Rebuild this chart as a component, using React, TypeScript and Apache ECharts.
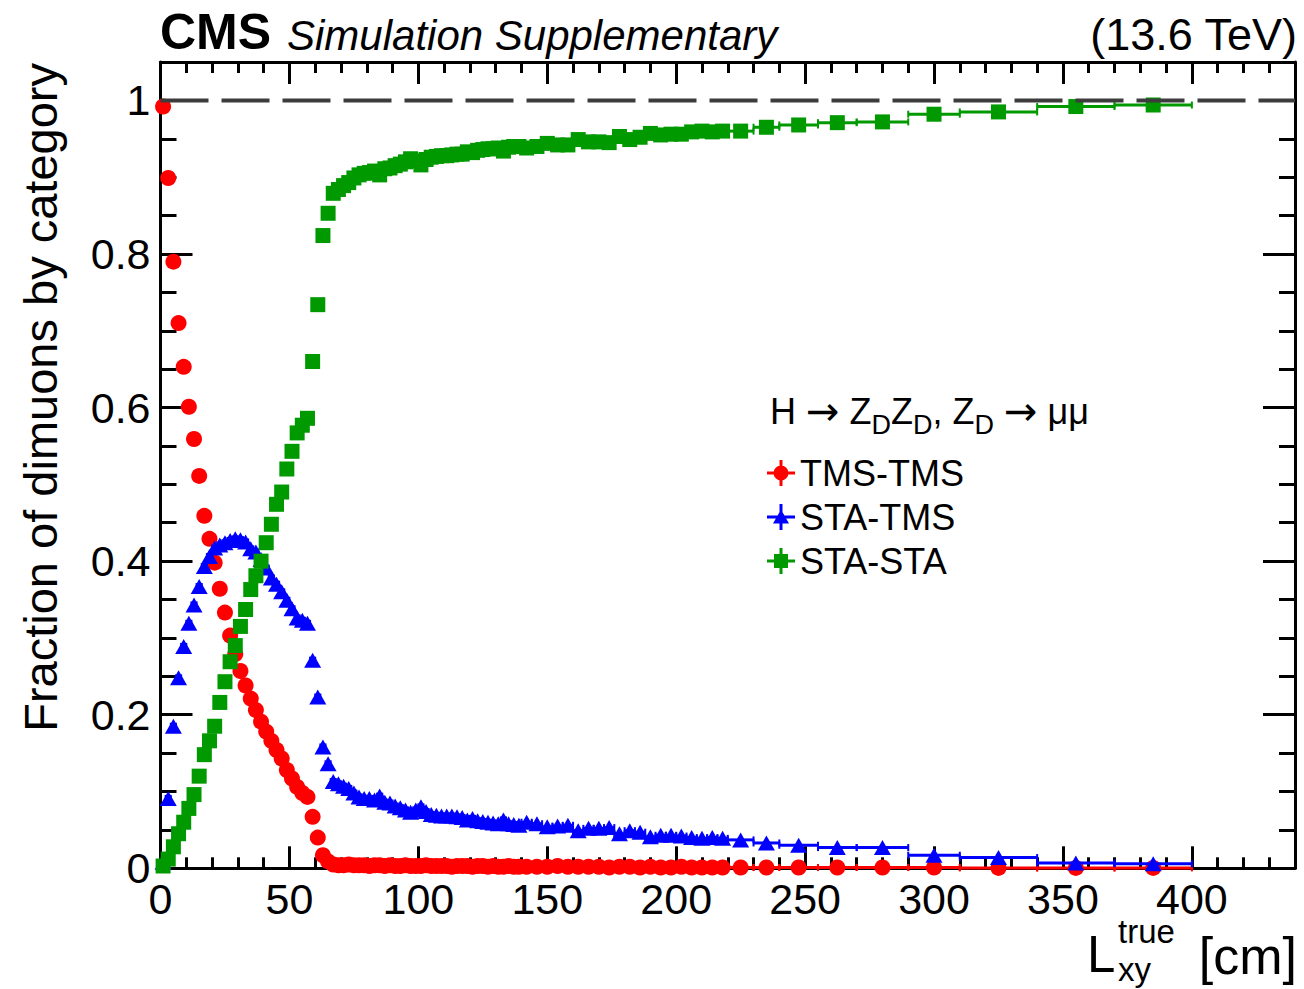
import React, { useEffect, useRef } from "react";
import * as echarts from "echarts";

// ---- binning (cm) ----
const fineEdges = Array.from({ length: 71 }, (_, i) => 2 * i); // 0..140 step 2
const mediumEdges = Array.from({ length: 20 }, (_, i) => 144 + 4 * i); // 144..220 step 4
const coarseEdges = [230, 240, 255, 270, 290, 310, 340, 370, 400];
const binEdges = [...fineEdges, ...mediumEdges, ...coarseEdges];

// ---- fractions per bin ----
const tmsTms = [
  0.992, 0.899, 0.79, 0.71, 0.653, 0.601, 0.559, 0.511, 0.459, 0.429, 0.398, 0.364, 0.333, 0.303, 0.279, 0.257, 0.238,
  0.221, 0.206, 0.191, 0.178, 0.166, 0.154, 0.143, 0.128, 0.117, 0.106, 0.098, 0.093, 0.067, 0.04, 0.017, 0.009, 0.005,
  0.004, 0.004, 0.005, 0.004, 0.004, 0.004, 0.003, 0.004, 0.004, 0.003, 0.004, 0.003, 0.003, 0.004, 0.003, 0.003, 0.003,
  0.004, 0.003, 0.003, 0.003, 0.003, 0.002, 0.003, 0.003, 0.003, 0.002, 0.003, 0.003, 0.002, 0.003, 0.002, 0.002, 0.003,
  0.002, 0.002,
  0.002, 0.002, 0.002, 0.003, 0.002, 0.002, 0.002, 0.002, 0.001, 0.002, 0.002, 0.001, 0.002, 0.001, 0.001, 0.002, 0.001,
  0.001, 0.001, 0.001,
  0.001, 0.001, 0.001, 0.001, 0.001, 0.001, 0.0005, 0.0005, 0.0005,
];
const staTms = [
  0.008, 0.091, 0.185, 0.248, 0.289, 0.319, 0.343, 0.367, 0.393, 0.406, 0.417, 0.421, 0.424, 0.427, 0.429, 0.428, 0.425,
  0.416, 0.412, 0.402, 0.391, 0.378, 0.37, 0.36, 0.349, 0.338, 0.326, 0.323, 0.319, 0.271, 0.223, 0.158, 0.136, 0.113,
  0.11, 0.107, 0.104, 0.098, 0.093, 0.091, 0.091, 0.089, 0.094, 0.086, 0.085, 0.081, 0.079, 0.076, 0.073, 0.076, 0.08,
  0.074, 0.07, 0.069, 0.068, 0.068, 0.068, 0.067, 0.066, 0.063, 0.065, 0.062, 0.061, 0.06, 0.059, 0.058, 0.063, 0.058,
  0.057, 0.056,
  0.06, 0.058, 0.054, 0.055, 0.056, 0.049, 0.052, 0.052, 0.053, 0.045, 0.049, 0.047, 0.041, 0.043, 0.043, 0.042, 0.04,
  0.039, 0.04, 0.039,
  0.037, 0.033, 0.03, 0.027, 0.027, 0.017, 0.014, 0.007, 0.006,
];
const staSta = [
  0.003, 0.012, 0.028, 0.045, 0.06, 0.078, 0.096, 0.12, 0.148, 0.166, 0.185, 0.216, 0.243, 0.269, 0.29, 0.315, 0.337,
  0.363, 0.381, 0.4, 0.424, 0.448, 0.474, 0.49, 0.52, 0.543, 0.567, 0.577, 0.586, 0.66, 0.734, 0.824, 0.853, 0.879,
  0.884, 0.889, 0.893, 0.899, 0.903, 0.905, 0.906, 0.908, 0.903, 0.911, 0.912, 0.915, 0.917, 0.92, 0.924, 0.921, 0.916,
  0.923, 0.926, 0.927, 0.928, 0.928, 0.929, 0.93, 0.93, 0.933, 0.932, 0.935, 0.936, 0.937, 0.937, 0.938, 0.934, 0.939,
  0.94, 0.94,
  0.938, 0.94, 0.944, 0.942, 0.942, 0.949, 0.946, 0.946, 0.945, 0.953, 0.949, 0.952, 0.957, 0.955, 0.956, 0.956, 0.959,
  0.96, 0.959, 0.96,
  0.96, 0.965, 0.968, 0.971, 0.972, 0.982, 0.985, 0.992, 0.994,
];

const seriesNames = ["TMS-TMS", "STA-TMS", "STA-STA"];
const xTickLabels = [0, 50, 100, 150, 200, 250, 300, 350, 400];
const yTickLabels = [0, 0.2, 0.4, 0.6, 0.8, 1];

const FONT = '"Liberation Sans", Arial, Helvetica, sans-serif';
const ARROW_FONT = '"DejaVu Sans", "Liberation Sans", sans-serif';
const RED = "#ff0000";
const BLUE = "#0000ff";
const GREEN = "#009900";

const ICON_CIRCLE =
  "path://M0,11.5h28v3h-28z M12.5,0h3v26h-3z M21.5,13A7.5,7.5 0 1,1 6.5,13A7.5,7.5 0 1,1 21.5,13z";
const ICON_TRI = "path://M0,11.5h28v3h-28z M12.5,0h3v26h-3z M14,5.5L22,19.5L6,19.5z";
const ICON_SQ = "path://M0,11.5h28v3h-28z M12.5,0h3v26h-3z M7,6h14v14h-14z";

function buildBars(values: number[]) {
  return values.map((v, i) => [binEdges[i], binEdges[i + 1], v]);
}
function buildPoints(values: number[]) {
  return values.map((v, i) => [(binEdges[i] + binEdges[i + 1]) / 2, v]);
}

function barSeries(values: number[], color: string, z: number) {
  return {
    type: "custom",
    xAxisIndex: 0,
    yAxisIndex: 0,
    z,
    silent: true,
    encode: { x: [0, 1], y: 2 },
    data: buildBars(values),
    renderItem: (params: any, api: any) => {
      const lo = api.value(0);
      const hi = api.value(1);
      const v = api.value(2);
      const p1 = api.coord([lo, v]);
      const p2 = api.coord([hi, v]);
      const cap = 3.5;
      return {
        type: "group",
        children: [
          { type: "line", shape: { x1: p1[0], y1: p1[1], x2: p2[0], y2: p2[1] }, style: { stroke: color, lineWidth: 3 } },
          { type: "line", shape: { x1: p1[0], y1: p1[1] - cap, x2: p1[0], y2: p1[1] + cap }, style: { stroke: color, lineWidth: 2 } },
          { type: "line", shape: { x1: p2[0], y1: p2[1] - cap, x2: p2[0], y2: p2[1] + cap }, style: { stroke: color, lineWidth: 2 } },
        ],
      };
    },
  };
}

const tickLine = { color: "#000", width: 3 };

function xAxisDef(position: "top" | "bottom", major: boolean) {
  return {
    type: "value",
    position,
    min: 0,
    max: 440,
    interval: major ? 50 : 10,
    axisLine: { show: major, onZero: false, lineStyle: { color: "#000", width: 3 } },
    axisTick: { show: true, inside: true, length: major ? 22 : 11, lineStyle: tickLine },
    axisLabel: {
      show: major && position === "bottom",
      margin: 9,
      fontSize: 43,
      fontFamily: FONT,
      color: "#000",
      formatter: (v: number) => (xTickLabels.indexOf(v) >= 0 ? String(v) : ""),
    },
    splitLine: { show: false },
    minorTick: { show: false },
  };
}

function yAxisDef(position: "left" | "right", major: boolean) {
  return {
    type: "value",
    position,
    min: 0,
    max: 1.05,
    interval: major ? 0.2 : 0.05,
    axisLine: { show: major, onZero: false, lineStyle: { color: "#000", width: 3 } },
    axisTick: { show: true, inside: true, length: major ? 32 : 16, lineStyle: tickLine },
    axisLabel: {
      show: major && position === "left",
      margin: 10,
      fontSize: 43,
      fontFamily: FONT,
      color: "#000",
      formatter: (v: number) => {
        const hit = yTickLabels.find((t) => Math.abs(t - v) < 1e-6);
        return hit === undefined ? "" : String(hit);
      },
    },
    splitLine: { show: false },
  };
}

const txt = (align: string) => ({
  fontFamily: FONT,
  fill: "#000",
  align,
  verticalAlign: "middle",
  textAlign: align,
  textVerticalAlign: "middle",
});

export default function App() {
  const ref = useRef<HTMLDivElement>(null);
  useEffect(() => {
    if (!ref.current) return;
    const chart = echarts.init(ref.current, undefined, { renderer: "svg" });
    const option: any = {
      animation: false,
      backgroundColor: "#ffffff",
      grid: { left: 160.5, right: 9, top: 62, bottom: 120.7 },
      xAxis: [xAxisDef("bottom", true), xAxisDef("bottom", false), xAxisDef("top", true), xAxisDef("top", false)],
      yAxis: [yAxisDef("left", true), yAxisDef("left", false), yAxisDef("right", true), yAxisDef("right", false)],
      legend: {
        orient: "vertical",
        left: 762,
        top: 450,
        itemWidth: 28,
        itemHeight: 26,
        itemGap: 8,
        selectedMode: false,
        textStyle: { fontSize: 36, fontFamily: FONT, color: "#000" },
        data: [
          { name: seriesNames[0], icon: ICON_CIRCLE },
          { name: seriesNames[1], icon: ICON_TRI },
          { name: seriesNames[2], icon: ICON_SQ },
        ],
      },
      series: [
        barSeries(tmsTms, RED, 2),
        {
          name: seriesNames[0],
          type: "scatter",
          xAxisIndex: 0,
          yAxisIndex: 0,
          z: 3,
          clip: false,
          symbol: "circle",
          symbolSize: 16,
          itemStyle: { color: RED, opacity: 1 },
          data: buildPoints(tmsTms),
        },
        barSeries(staTms, BLUE, 4),
        {
          name: seriesNames[1],
          type: "scatter",
          xAxisIndex: 0,
          yAxisIndex: 0,
          z: 5,
          clip: false,
          symbol: "triangle",
          symbolSize: [17, 15],
          itemStyle: { color: BLUE, opacity: 1 },
          data: buildPoints(staTms),
        },
        barSeries(staSta, GREEN, 6),
        {
          name: seriesNames[2],
          type: "scatter",
          xAxisIndex: 0,
          yAxisIndex: 0,
          z: 7,
          clip: false,
          symbol: "rect",
          symbolSize: 15,
          itemStyle: { color: GREEN, opacity: 1 },
          data: buildPoints(staSta),
        },
        {
          type: "line",
          xAxisIndex: 0,
          yAxisIndex: 0,
          z: 10,
          silent: true,
          symbol: "none",
          data: [
            [0, 1],
            [440, 1],
          ],
          lineStyle: { color: "#3c3c3c", width: 4, type: [48, 13] },
        },
      ],
      graphic: [
        { type: "text", x: 160, y: 32, style: { ...txt("left"), text: "CMS", fontSize: 50, fontWeight: "bold" } },
        { type: "text", x: 287, y: 35, style: { ...txt("left"), text: "Simulation Supplementary", fontSize: 42, fontStyle: "italic" } },
        { type: "text", x: 1297, y: 34, style: { ...txt("right"), text: "(13.6 TeV)", fontSize: 45 } },
        {
          type: "text",
          x: 40,
          y: 63,
          rotation: Math.PI / 2,
          style: { ...txt("right"), text: "Fraction of dimuons by category", fontSize: 47 },
        },
        { type: "text", x: 1087, y: 954, style: { ...txt("left"), text: "L", fontSize: 51 } },
        { type: "text", x: 1118, y: 931, style: { ...txt("left"), text: "true", fontSize: 33 } },
        { type: "text", x: 1118, y: 969, style: { ...txt("left"), text: "xy", fontSize: 33 } },
        { type: "text", x: 1297, y: 956, style: { ...txt("right"), text: "[cm]", fontSize: 52 } },
        {
          type: "text",
          x: 770,
          y: 411,
          style: {
            ...txt("left"),
            text: "H {a|\u2192} Z{d|D}Z{d|D}, Z{d|D} {a|\u2192} \u03bc\u03bc",
            fontSize: 36,
            rich: {
              d: { fontSize: 27, fontFamily: FONT, fill: "#000", padding: [28, 0, 0, 0] },
              a: { fontSize: 40, fontFamily: ARROW_FONT, fill: "#000" },
            },
          },
        },
      ],
    };
    chart.setOption(option);
    return () => chart.dispose();
  }, []);
  return <div ref={ref} style={{ position: "absolute", left: 0, top: 0, width: 1304, height: 989 }} />;
}
